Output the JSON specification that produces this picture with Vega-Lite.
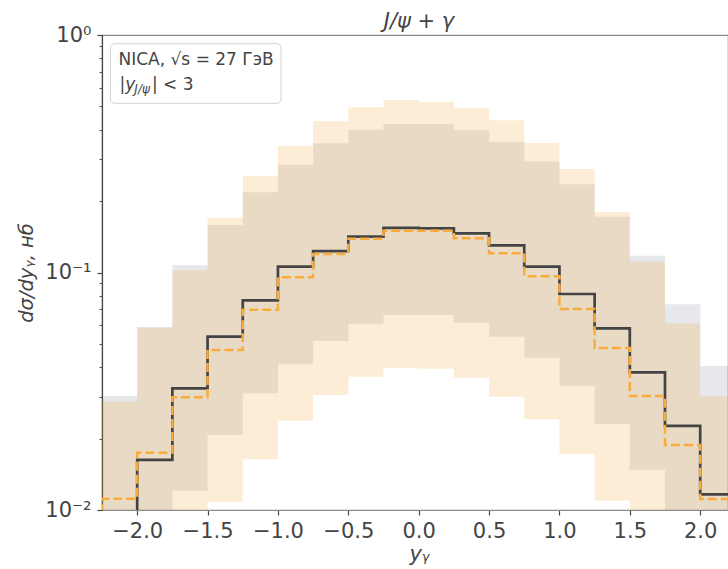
{
  "$schema": "https://vega.github.io/schema/vega-lite/v6.json",
  "width": 626,
  "height": 475,
  "autosize": "none",
  "padding": {"left": 102, "top": 35, "right": 0, "bottom": 59},
  "background": "white",
  "config": {
    "font": "DejaVu Sans",
    "view": {"stroke": "#8a8a8a", "strokeWidth": 1.2},
    "axis": {"grid": false, "labelFont": "DejaVu Sans", "titleFont": "DejaVu Sans", "labelColor": "#444", "titleColor": "#444", "tickColor": "#444", "labelFontSize": 21, "titleFontSize": 21, "titleFontWeight": "normal", "titleFontStyle": "italic"}
  },
  "title": {"text": "J/ψ + γ", "font": "DejaVu Sans", "fontStyle": "italic", "fontWeight": "normal", "fontSize": 21, "color": "#444", "anchor": "middle", "dx": 4, "offset": -8},
  "datasets": {
    "bins": [
      {"x0": -2.25, "x1": -2.0, "glo": 0.005, "ghi": 0.0302, "olo": 0.005, "ohi": 0.0286},
      {"x0": -2.0, "x1": -1.75, "glo": 0.005, "ghi": 0.059, "olo": 0.005, "ohi": 0.0585},
      {"x0": -1.75, "x1": -1.5, "glo": 0.01206, "ghi": 0.1075, "olo": 0.005, "ohi": 0.1025},
      {"x0": -1.5, "x1": -1.25, "glo": 0.0207, "ghi": 0.1585, "olo": 0.01084, "ohi": 0.170},
      {"x0": -1.25, "x1": -1.0, "glo": 0.031, "ghi": 0.2175, "olo": 0.01634, "ohi": 0.2548},
      {"x0": -1.0, "x1": -0.75, "glo": 0.0411, "ghi": 0.2843, "olo": 0.02377, "ohi": 0.342},
      {"x0": -0.75, "x1": -0.5, "glo": 0.0515, "ghi": 0.350, "olo": 0.0305, "ohi": 0.433},
      {"x0": -0.5, "x1": -0.25, "glo": 0.0609, "ghi": 0.3995, "olo": 0.0364, "ohi": 0.496},
      {"x0": -0.25, "x1": 0.0, "glo": 0.0662, "ghi": 0.422, "olo": 0.0395, "ohi": 0.5326},
      {"x0": 0.0, "x1": 0.25, "glo": 0.0662, "ghi": 0.422, "olo": 0.0393, "ohi": 0.522},
      {"x0": 0.25, "x1": 0.5, "glo": 0.0615, "ghi": 0.398, "olo": 0.0361, "ohi": 0.491},
      {"x0": 0.5, "x1": 0.75, "glo": 0.0537, "ghi": 0.354, "olo": 0.030, "ohi": 0.4375},
      {"x0": 0.75, "x1": 1.0, "glo": 0.0438, "ghi": 0.293, "olo": 0.0241, "ohi": 0.351},
      {"x0": 1.0, "x1": 1.25, "glo": 0.0333, "ghi": 0.235, "olo": 0.01726, "ohi": 0.2728},
      {"x0": 1.25, "x1": 1.5, "glo": 0.023, "ghi": 0.1718, "olo": 0.01094, "ohi": 0.1798},
      {"x0": 1.5, "x1": 1.75, "glo": 0.01474, "ghi": 0.1177, "olo": 0.005, "ohi": 0.111},
      {"x0": 1.75, "x1": 2.0, "glo": 0.005, "ghi": 0.0735, "olo": 0.005, "ohi": 0.0611},
      {"x0": 2.0, "x1": 2.25, "glo": 0.005, "ghi": 0.0404, "olo": 0.005, "ohi": 0.0302}
    ],
    "solid": [
      {"i": 0, "x": -2.25, "v": 0.009},
      {"i": 1, "x": -2.0, "v": 0.01625},
      {"i": 2, "x": -1.75, "v": 0.0325},
      {"i": 3, "x": -1.5, "v": 0.0537},
      {"i": 4, "x": -1.25, "v": 0.0763},
      {"i": 5, "x": -1.0, "v": 0.1058},
      {"i": 6, "x": -0.75, "v": 0.123},
      {"i": 7, "x": -0.5, "v": 0.1415},
      {"i": 8, "x": -0.25, "v": 0.154},
      {"i": 9, "x": 0.0, "v": 0.1535},
      {"i": 10, "x": 0.25, "v": 0.146},
      {"i": 11, "x": 0.5, "v": 0.130},
      {"i": 12, "x": 0.75, "v": 0.1058},
      {"i": 13, "x": 1.0, "v": 0.0812},
      {"i": 14, "x": 1.25, "v": 0.0582},
      {"i": 15, "x": 1.5, "v": 0.038},
      {"i": 16, "x": 1.75, "v": 0.0226},
      {"i": 17, "x": 2.0, "v": 0.01164},
      {"i": 18, "x": 2.25, "v": 0.01164}
    ],
    "dashed": [
      {"i": 0, "x": -2.25, "v": 0.001},
      {"i": 1, "x": -2.25, "v": 0.01116},
      {"i": 2, "x": -2.0, "v": 0.0174},
      {"i": 3, "x": -1.75, "v": 0.0298},
      {"i": 4, "x": -1.5, "v": 0.0472},
      {"i": 5, "x": -1.25, "v": 0.0697},
      {"i": 6, "x": -1.0, "v": 0.0954},
      {"i": 7, "x": -0.75, "v": 0.1197},
      {"i": 8, "x": -0.5, "v": 0.1388},
      {"i": 9, "x": -0.25, "v": 0.150},
      {"i": 10, "x": 0.0, "v": 0.150},
      {"i": 11, "x": 0.25, "v": 0.1394},
      {"i": 12, "x": 0.5, "v": 0.1205},
      {"i": 13, "x": 0.75, "v": 0.0964},
      {"i": 14, "x": 1.0, "v": 0.0702},
      {"i": 15, "x": 1.25, "v": 0.0481},
      {"i": 16, "x": 1.5, "v": 0.0302},
      {"i": 17, "x": 1.75, "v": 0.0188},
      {"i": 18, "x": 2.0, "v": 0.01112},
      {"i": 19, "x": 2.25, "v": 0.01112}
    ]
  },
  "layer": [
    {
      "data": {"name": "bins"},
      "mark": {"type": "rect", "color": "#5a6578", "opacity": 0.15, "clip": true},
      "encoding": {
        "x": {"field": "x0", "type": "quantitative",
              "scale": {"domain": [-2.25, 2.1976], "nice": false, "zero": false},
              "axis": {"title": "yᵧ", "values": [-2, -1.5, -1, -0.5, 0, 0.5, 1, 1.5, 2], "format": ".1f", "domainColor": "#8a8a8a", "domainWidth": 1.2, "tickSize": 5, "tickWidth": 1.2, "labelPadding": 5, "titlePadding": 2, "titleX": 317}},
        "x2": {"field": "x1"},
        "y": {"field": "glo", "type": "quantitative",
              "scale": {"type": "log", "domain": [0.01, 1], "nice": false},
              "axis": {"title": "dσ/dyᵧ,  нб", "titleFontSize": 19.5, "values": [0.01, 0.02, 0.03, 0.04, 0.05, 0.06, 0.07, 0.08, 0.09, 0.1, 0.2, 0.3, 0.4, 0.5, 0.6, 0.7, 0.8, 0.9, 1],
                       "labelExpr": "datum.value == 1 ? '10⁰' : datum.value == 0.1 ? '10⁻¹' : datum.value == 0.01 ? '10⁻²' : ''",
                       "tickSize": {"condition": {"test": "datum.value == 1 || datum.value == 0.1 || datum.value == 0.01", "value": 5}, "value": 3},
                       "tickWidth": {"condition": {"test": "datum.value == 1 || datum.value == 0.1 || datum.value == 0.01", "value": 1.2}, "value": 0.9},
                       "domainColor": "#444", "domainWidth": 1.2, "labelPadding": 6, "titlePadding": 8}},
        "y2": {"field": "ghi"}
      }
    },
    {
      "data": {"name": "bins"},
      "mark": {"type": "rect", "color": "#f49b1b", "opacity": 0.18, "clip": true},
      "encoding": {
        "x": {"field": "x0", "type": "quantitative"},
        "x2": {"field": "x1"},
        "y": {"field": "olo", "type": "quantitative"},
        "y2": {"field": "ohi"}
      }
    },
    {
      "data": {"name": "solid"},
      "mark": {"type": "line", "interpolate": "step-after", "color": "#444444", "strokeWidth": 2.7, "clip": true},
      "encoding": {
        "x": {"field": "x", "type": "quantitative"},
        "y": {"field": "v", "type": "quantitative"},
        "order": {"field": "i", "type": "quantitative"}
      }
    },
    {
      "data": {"name": "dashed"},
      "mark": {"type": "line", "interpolate": "step-after", "color": "#fbab3c", "strokeWidth": 2.5, "strokeDash": [9, 4], "clip": true},
      "encoding": {
        "x": {"field": "x", "type": "quantitative"},
        "y": {"field": "v", "type": "quantitative"},
        "order": {"field": "i", "type": "quantitative"}
      }
    },
    {
      "data": {"values": [{}]},
      "mark": {"type": "rect", "fill": "white", "fillOpacity": 0.8, "stroke": "#d3d3d3", "strokeWidth": 1, "cornerRadius": 4},
      "encoding": {
        "x": {"datum": -2.1896},
        "x2": {"datum": -0.978},
        "y": {"datum": 0.919},
        "y2": {"datum": 0.5158}
      }
    },
    {
      "data": {"values": [{}]},
      "mark": {"type": "text", "align": "left", "baseline": "alphabetic", "fontSize": 17, "color": "#444", "font": "DejaVu Sans"},
      "encoding": {
        "x": {"datum": -2.1328},
        "y": {"datum": 0.745},
        "text": {"value": "NICA, √s = 27 ГэВ"}
      }
    },
    {
      "data": {"values": [{}]},
      "mark": {"type": "text", "align": "left", "baseline": "alphabetic", "fontSize": 17, "color": "#444", "font": "DejaVu Sans", "fontStyle": "italic"},
      "encoding": {
        "x": {"datum": -2.1257},
        "y": {"datum": 0.5846},
        "text": {"value": "|y"}
      }
    },
    {
      "data": {"values": [{}]},
      "mark": {"type": "text", "align": "left", "baseline": "alphabetic", "fontSize": 12, "color": "#444", "font": "DejaVu Sans", "fontStyle": "italic", "dy": 3},
      "encoding": {
        "x": {"datum": -2.02},
        "y": {"datum": 0.5846},
        "text": {"value": "J/ψ"}
      }
    },
    {
      "data": {"values": [{}]},
      "mark": {"type": "text", "align": "left", "baseline": "alphabetic", "fontSize": 17, "color": "#444", "font": "DejaVu Sans"},
      "encoding": {
        "x": {"datum": -1.895},
        "y": {"datum": 0.5846},
        "text": {"value": "| < 3"}
      }
    }
  ]
}
